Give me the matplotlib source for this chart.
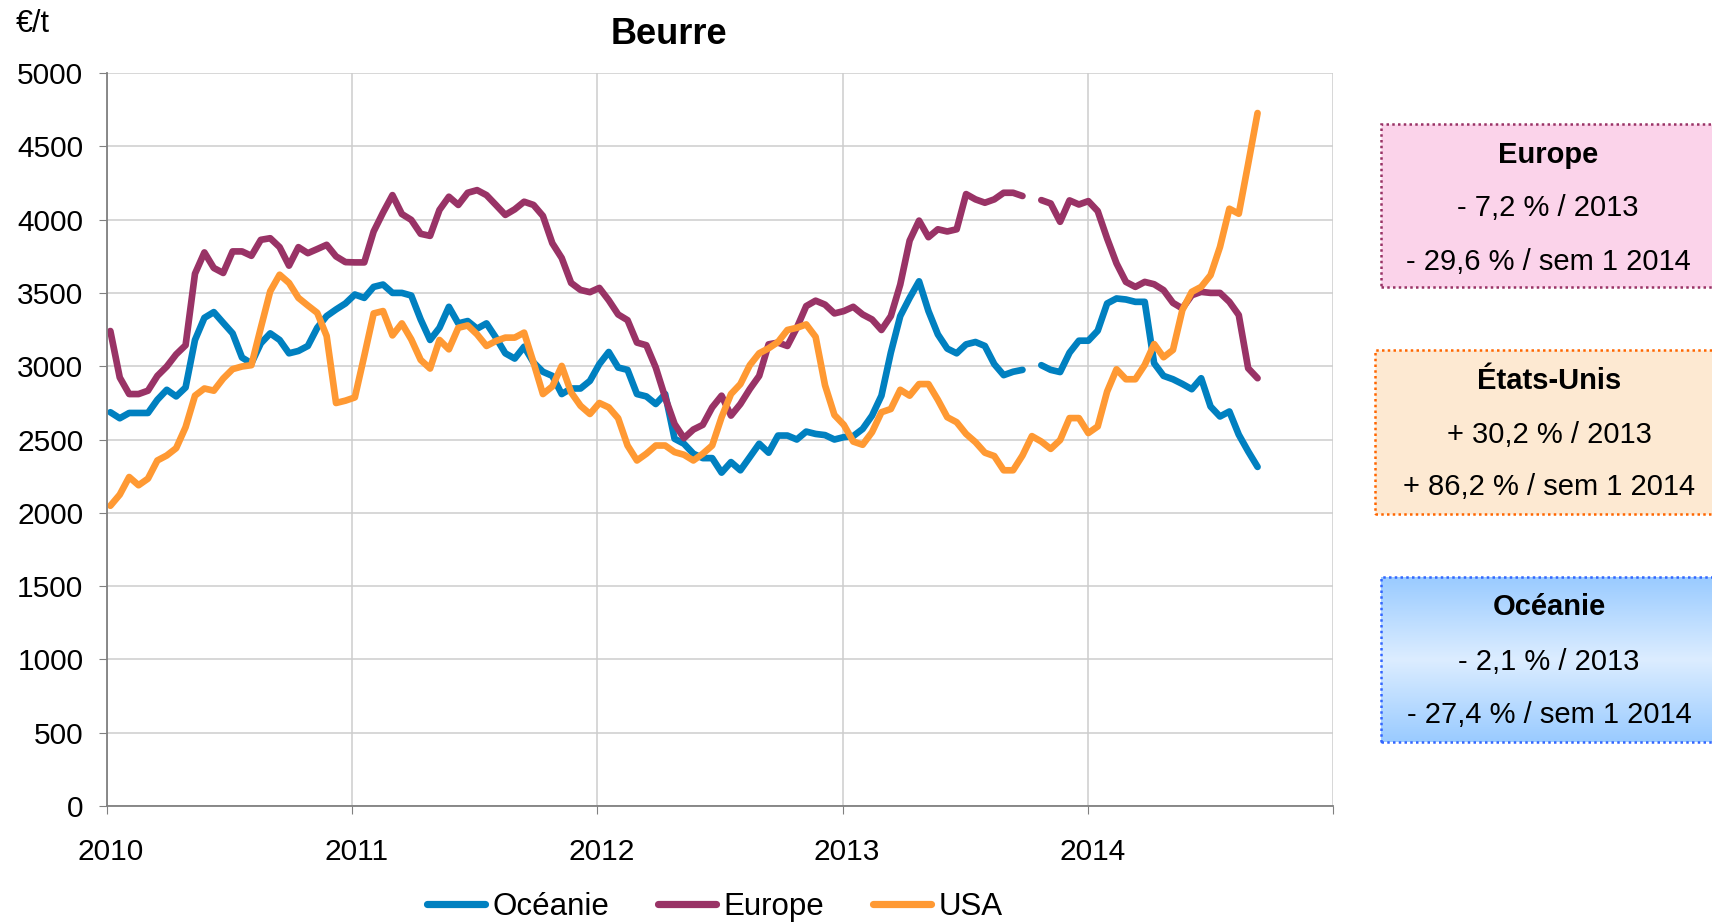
import numpy as np
import pandas as pd
import matplotlib
matplotlib.use('Agg')
import matplotlib.pyplot as plt
import matplotlib.transforms as mtransforms
from matplotlib.patches import Rectangle
from matplotlib.colors import LinearSegmentedColormap
from datetime import datetime

plt.rcParams['font.family'] = ['Liberation Sans', 'DejaVu Sans']

# prix du beurre, relevés tous les 14 jours (€/t)
dates = pd.date_range('2010-01-06', periods=123, freq='14D')

oceanie = [2686, 2645, 2681, 2681, 2681, 2771, 2839, 2794, 2855, 3179,
           3330, 3369, 3296, 3224, 3059, 3020, 3156, 3224, 3179, 3088,
           3104, 3138, 3262, 3342, 3387, 3428, 3489, 3466, 3541, 3557,
           3500, 3500, 3482, 3319, 3179, 3262, 3405, 3292, 3308, 3256,
           3292, 3195, 3088, 3052, 3133, 3025, 2962, 2934, 2810, 2848,
           2848, 2900, 3014, 3097, 2991, 2975, 2810, 2794, 2742, 2810,
           2505, 2471, 2403, 2373, 2373, 2274, 2346, 2290, 2380, 2471,
           2410, 2527, 2527, 2500, 2554, 2538, 2530, 2500, 2516, 2523,
           2572, 2663, 2799, 3093, 3342, 3466, 3579, 3376, 3217, 3120,
           3088, 3149, 3165, 3138, 3014, 2939, 2962, 2975, np.nan, 3007,
           2975, 2960, 3092, 3174, 3174, 3242, 3428, 3462, 3455, 3439,
           3439, 3020, 2934, 2911, 2879, 2843, 2918, 2725, 2657, 2691,
           2533, 2419, 2313]

europe = [3240, 2923, 2810, 2810, 2833, 2934, 2998, 3081, 3143, 3631,
          3776, 3670, 3636, 3783, 3783, 3753, 3862, 3873, 3812, 3686,
          3812, 3771, 3799, 3828, 3749, 3710, 3708, 3708, 3919, 4048,
          4167, 4038, 3998, 3903, 3889, 4066, 4156, 4100, 4183, 4201,
          4167, 4100, 4032, 4070, 4122, 4100, 4025, 3839, 3738, 3568,
          3520, 3505, 3534, 3450, 3353, 3314, 3161, 3143, 2991, 2787,
          2606, 2509, 2568, 2600, 2719, 2799, 2663, 2742, 2844, 2934,
          3149, 3161, 3138, 3262, 3410, 3447, 3420, 3360, 3376, 3405,
          3353, 3319, 3247, 3342, 3557, 3857, 3993, 3880, 3934, 3919,
          3934, 4174, 4138, 4115, 4138, 4183, 4183, 4161, np.nan, 4133,
          4110, 3985, 4131, 4103, 4126, 4058, 3871, 3701, 3575, 3541,
          3575, 3559, 3519, 3432, 3394, 3484, 3507, 3500, 3500, 3439,
          3349, 2986, 2918]

usa = [2048, 2124, 2244, 2188, 2233, 2357, 2391, 2441, 2584, 2799,
       2848, 2833, 2916, 2980, 2998, 3007, 3262, 3511, 3624, 3568,
       3466, 3414, 3364, 3206, 2749, 2765, 2787, 3070, 3360, 3376,
       3210, 3292, 3183, 3043, 2984, 3179, 3115, 3262, 3278, 3217,
       3138, 3172, 3195, 3195, 3229, 3025, 2810, 2862, 3002, 2821,
       2730, 2674, 2749, 2719, 2645, 2459, 2357, 2403, 2459, 2459,
       2414, 2396, 2357, 2403, 2459, 2652, 2810, 2878, 3007, 3088,
       3122, 3165, 3247, 3262, 3285, 3200, 2870, 2667, 2600, 2486,
       2464, 2550, 2686, 2708, 2839, 2799, 2878, 2878, 2771, 2652,
       2618, 2538, 2482, 2410, 2387, 2290, 2290, 2391, 2523, 2486,
       2436, 2496, 2646, 2646, 2544, 2589, 2827, 2979, 2911, 2911,
       3009, 3151, 3061, 3111, 3383, 3507, 3541, 3621, 3813, 4074,
       4040, 4380, 4727]

years = [2010, 2011, 2012, 2013, 2014, 2015]
year_labels = ['2010', '2011', '2012', '2013', '2014', '']

fig = plt.figure(figsize=(17.12, 9.24), dpi=100)
ax = fig.add_axes([0.0625, 0.1277, 0.7164, 0.7933])

ax.plot(dates, oceanie, color='#0080C0', lw=4.8, label='Océanie', solid_capstyle='round')
ax.plot(dates, europe, color='#993366', lw=4.8, label='Europe', solid_capstyle='round')
ax.plot(dates, usa, color='#FF9933', lw=4.8, label='USA', solid_capstyle='round')

ax.set_xlim(datetime(2010, 1, 1), datetime(2015, 1, 1))
ax.set_ylim(0, 5000)
ax.set_yticks(range(0, 5001, 500))
ax.set_xticks([datetime(y, 1, 1) for y in years])
ax.set_xticklabels(year_labels)
ax.grid(True, color='#CDCDCD', lw=1.1)
ax.set_axisbelow(True)
for s in ['top', 'right']:
    ax.spines[s].set_visible(False)
for s in ['left', 'bottom']:
    ax.spines[s].set_color('#808080')
    ax.spines[s].set_linewidth(1.3)
ax.tick_params(axis='y', labelsize=21.5, length=6, color='#808080', pad=11)
ax.tick_params(axis='x', labelsize=21.5, length=6, color='#808080', pad=17)

# petits décalages des années vers la droite
shift = mtransforms.ScaledTranslation(4 / 100, 0, fig.dpi_scale_trans)
for lab in ax.get_xticklabels():
    lab.set_transform(lab.get_transform() + shift)

fig.text(0.391, 0.963, 'Beurre', fontsize=26, fontweight='bold', ha='center', va='center')
fig.text(0.009, 0.974, '€/t', fontsize=22, ha='left', va='center')

leg = ax.legend(loc='center', bbox_to_anchor=(0.4176, 0.018), bbox_transform=fig.transFigure,
                ncol=3, frameon=False, fontsize=22.5, handlelength=1.85, handletextpad=0.25,
                columnspacing=1.55)
for l in leg.get_lines():
    l.set_linewidth(5.2)

W, H = 1712.0, 924.0

def box(x0, y0, y1, face, edge):
    r = Rectangle((x0 / W, 1 - y1 / H), 1.02 - x0 / W, (y1 - y0) / H, transform=fig.transFigure,
                  facecolor=face, edgecolor=edge, lw=1.8, linestyle=(0, (1, 1.3)), zorder=1)
    fig.patches.append(r)

def box_text(cx, ys, lines):
    for i, (y, t) in enumerate(zip(ys, lines)):
        fig.text(cx / W, 1 - y / H, t, fontsize=21, fontweight='bold' if i == 0 else 'normal',
                 ha='center', va='center', zorder=5)

# Europe
box(1381, 124, 287, '#FBD3EA', '#993366')
box_text(1548, [155, 208, 262], ['Europe', '- 7,2 % / 2013', '- 29,6 % / sem 1 2014'])

# Etats-Unis
box(1375, 350, 514, '#FDE9D2', '#FF6600')
box_text(1549, [381, 435, 487], ['États-Unis', '+ 30,2 % / 2013', '+ 86,2 % / sem 1 2014'])

# Oceanie, fond en dégradé
gax = fig.add_axes([1381 / W, 1 - 742 / H, 1 - 1381 / W, (742 - 577) / H], zorder=0)
cmap = LinearSegmentedColormap.from_list('oc', ['#9ACBFF', '#DCEDFF', '#9ACBFF'])
grad = np.linspace(0, 1, 200).reshape(-1, 1)
gax.imshow(grad, aspect='auto', cmap=cmap, extent=[0, 1, 0, 1])
gax.axis('off')
r = Rectangle((1381 / W, 1 - 742 / H), 1.02 - 1381 / W, (742 - 577) / H, transform=fig.transFigure,
              facecolor='none', edgecolor='#3366FF', lw=1.8, linestyle=(0, (1, 1.3)), zorder=3)
fig.patches.append(r)
box_text(1549, [607, 662, 715], ['Océanie', '- 2,1 % / 2013', '- 27,4 % / sem 1 2014'])

fig.savefig('out.png', dpi=100)
